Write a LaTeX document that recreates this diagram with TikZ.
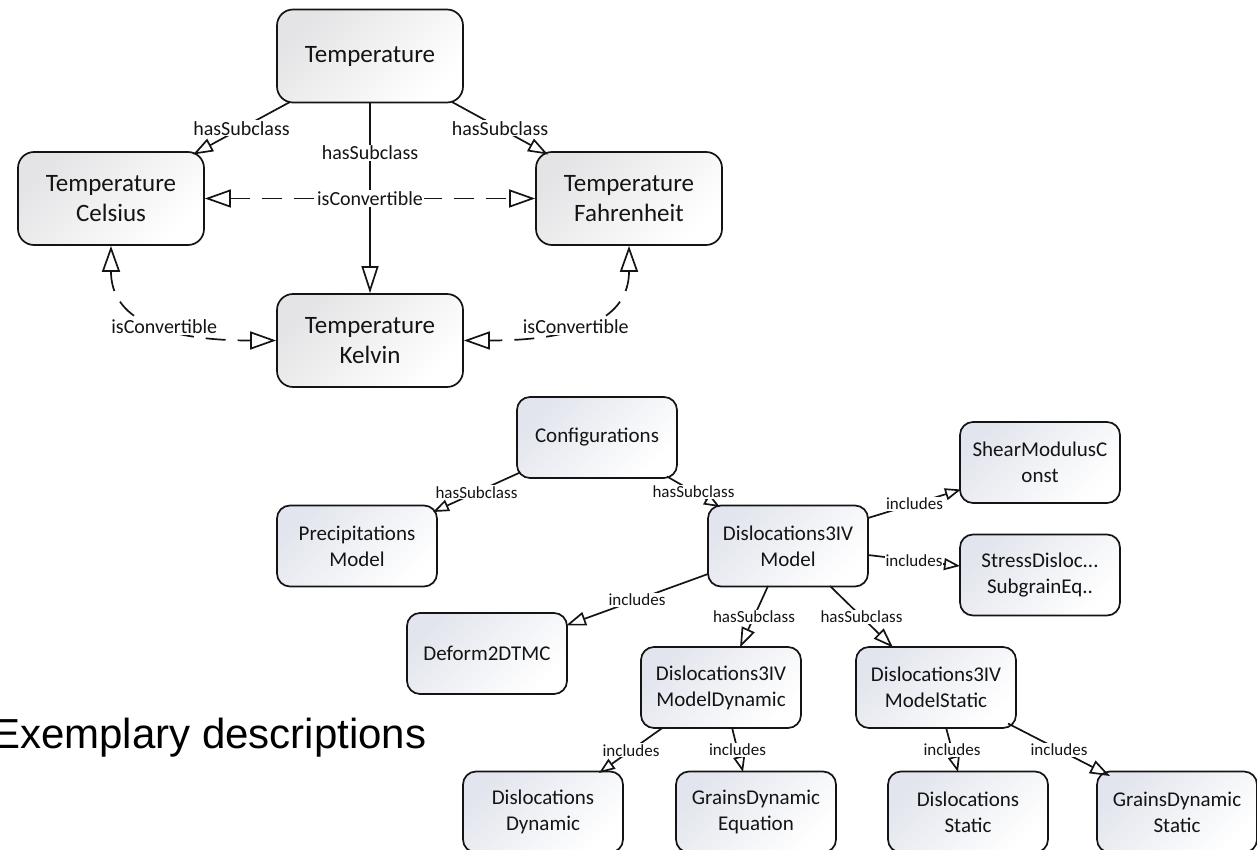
\documentclass[tikz,border=0pt]{standalone}
\usepackage{fontspec}
\setmainfont{Carlito}
\newfontfamily\arialfont{Liberation Sans}
\usetikzlibrary{arrows.meta}
\definecolor{shadetop}{RGB}{228,228,230}
\definecolor{shadelow}{RGB}{226,229,237}
\definecolor{ink}{RGB}{20,20,20}
\begin{document}
\begin{tikzpicture}[x=1pt,y=-1pt,
  topbox/.style={draw=ink, line width=1.7pt, rounded corners=16pt, minimum width=186pt, minimum height=93pt, align=center, font=\fontsize{25}{30}\selectfont, top color=shadetop, bottom color=white, shading angle=45, text=ink, inner sep=0pt},
  lowbox/.style={draw=ink, line width=1.7pt, rounded corners=13pt, minimum width=160pt, minimum height=81pt, align=center, font=\fontsize{21}{26}\selectfont, top color=shadelow, bottom color=white, shading angle=45, text=ink, inner sep=0pt},
  conn/.style={draw=ink, line width=1.7pt},
  toplbl/.style={fill=white, inner sep=1pt, font=\fontsize{20}{22}\selectfont, text=ink},
  lowlbl/.style={fill=white, inner sep=1pt, font=\fontsize{17}{19}\selectfont, text=ink},
  bigtip/.style={-{Triangle[open,length=27pt,width=17pt]}},
  convtip/.style={{Triangle[open,length=26pt,width=18pt]}-{Triangle[open,length=26pt,width=18pt]}, dash pattern=on 20pt off 12pt},
  midtip/.style={-{Triangle[open,length=20pt,width=14pt]}},
  smalltip/.style={-{Triangle[open,length=16pt,width=12pt]}}
]
\useasboundingbox (0,0) rectangle (1257,850);

% Temperature group
\node[topbox] (temp) at (370,56) {Temperature};
\node[topbox] (cel) at (111,198.5) {Temperature\\Celsius};
\node[topbox] (fah) at (629,198.5) {Temperature\\Fahrenheit};
\node[topbox] (kel) at (370,340.5) {Temperature\\Kelvin};

\draw[conn, midtip] ([shift={(-80,46)}]temp.center) -- node[toplbl]{hasSubclass} ([shift={(82,-44)}]cel.center);
\draw[conn, midtip] ([shift={(82,46)}]temp.center) -- node[toplbl]{hasSubclass} ([shift={(-81,-44)}]fah.center);
\draw[conn, bigtip] (temp.south) -- node[toplbl,pos=0.26]{hasSubclass} (kel.north);
\draw[conn, convtip] (cel.east) -- node[toplbl]{isConvertible} (fah.west);
\draw[conn, convtip] (cel.south) .. controls +(0,60) and +(-138,0) .. node[toplbl,pos=0.63]{isConvertible} (kel.west);
\draw[conn, convtip] (fah.south) .. controls +(0,60) and +(138,0) .. node[toplbl,pos=0.63]{isConvertible} (kel.east);

% Configurations group
\node[lowbox] (conf) at (597,437.5) {Configurations};
\node[lowbox] (prec) at (357,546) {Precipitations\\Model};
\node[lowbox] (def) at (487,653.5) {Deform2DTMC};
\node[lowbox] (dm) at (788,546) {Dislocations3IV\\Model};
\node[lowbox] (smc) at (1040,462.5) {ShearModulusC\\onst};
\node[lowbox] (sds) at (1040,575) {StressDisloc...\\SubgrainEq..};
\node[lowbox] (dyn) at (721,687.5) {Dislocations3IV\\ModelDynamic};
\node[lowbox] (sta) at (936,687.5) {Dislocations3IV\\ModelStatic};
\node[lowbox] (dd) at (543,812) {Dislocations\\Dynamic};
\node[lowbox] (gde) at (756,812) {GrainsDynamic\\Equation};
\node[lowbox] (ds) at (968,812) {Dislocations\\Static};
\node[lowbox] (gds) at (1177,812) {GrainsDynamic\\Static};

\draw[conn, smalltip] ([shift={(-77,35)}]conf.center) -- node[lowlbl]{hasSubclass} ([shift={(76,-34)}]prec.center);
\draw[conn, smalltip] ([shift={(70,39)}]conf.center) -- node[lowlbl]{hasSubclass} ([shift={(-68,-39)}]dm.center);
\draw[conn, smalltip] ([shift={(80,-28)}]dm.center) -- node[lowlbl]{includes} ([shift={(-79,27)}]smc.center);
\draw[conn, smalltip] ([shift={(80,9)}]dm.center) -- node[lowlbl]{includes} ([shift={(-80,-9)}]sds.center);
\draw[conn, midtip] ([shift={(-80,28)}]dm.center) -- node[lowlbl]{includes} ([shift={(79,-28)}]def.center);
\draw[conn, midtip] ([shift={(-20,40)}]dm.center) -- node[lowlbl]{hasSubclass} ([shift={(19,-40)}]dyn.center);
\draw[conn, midtip] ([shift={(42,40)}]dm.center) -- node[lowlbl]{hasSubclass} ([shift={(-43,-40)}]sta.center);
\draw[conn, smalltip] ([shift={(-58,40)}]dyn.center) -- node[lowlbl]{includes} ([shift={(56,-39)}]dd.center);
\draw[conn, smalltip] ([shift={(11,40)}]dyn.center) -- node[lowlbl]{includes} ([shift={(-13,-40)}]gde.center);
\draw[conn, smalltip] ([shift={(10,40)}]sta.center) -- node[lowlbl]{includes} ([shift={(-10,-40)}]ds.center);
\draw[conn, midtip] ([shift={(72,36)}]sta.center) -- node[lowlbl]{includes} ([shift={(-67,-36)}]gds.center);

\node[anchor=base west, inner sep=0pt, font=\arialfont\fontsize{42}{50}\selectfont] (title) at (-8,748) {Exemplary descriptions};
\end{tikzpicture}
\end{document}
